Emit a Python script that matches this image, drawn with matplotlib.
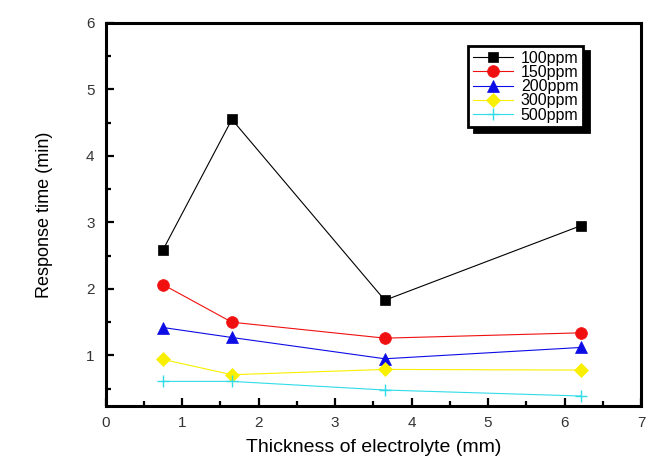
import matplotlib
matplotlib.use("Agg")
import matplotlib.pyplot as plt
from matplotlib.ticker import MultipleLocator

plt.rcParams.update({"font.family": ["Liberation Sans", "DejaVu Sans"]})

thickness = [0.75, 1.65, 3.65, 6.21]
labels = ["100ppm", "150ppm", "200ppm", "300ppm", "500ppm"]
resp_100 = [2.59, 4.55, 1.83, 2.95]
resp_150 = [2.065, 1.50, 1.26, 1.34]
resp_200 = [1.42, 1.27, 0.95, 1.12]
resp_300 = [0.94, 0.71, 0.79, 0.78]
resp_500 = [0.61, 0.61, 0.48, 0.39]

series = [resp_100, resp_150, resp_200, resp_300, resp_500]
colors = ["black", "#f01010", "#0c0ce6", "#f8f000", "#30dce8"]
markers = ["s", "o", "^", "D", "+"]
msizes = [7, 8.5, 8.5, 7.5, 8]

fig = plt.figure(figsize=(6.66, 4.74), dpi=100)
ax = fig.add_axes([0.1587, 0.1435, 0.8038, 0.808])

for vals, lab, c, m, ms in zip(series, labels, colors, markers, msizes):
    ax.plot(thickness, vals, color=c, marker=m, ms=ms, lw=0.8, label=lab,
            markeredgecolor=c, markeredgewidth=1.0 if m == "+" else 0.5)

ax.set_xlim(0, 7)
ax.set_ylim(0.24, 6)
ax.xaxis.set_major_locator(MultipleLocator(1))
ax.xaxis.set_minor_locator(MultipleLocator(0.5))
ax.yaxis.set_major_locator(MultipleLocator(1))
ax.yaxis.set_minor_locator(MultipleLocator(0.5))
ax.tick_params(which="both", direction="in", width=1.6, top=False, right=False,
               labelsize=11, colors="black")
ax.tick_params(which="major", length=5.5)
ax.tick_params(which="minor", length=3.5)
ax.tick_params(axis="x", pad=7)
ax.tick_params(axis="y", pad=8)
for tl in ax.get_xticklabels() + ax.get_yticklabels():
    tl.set_color("#333333")
for s in ax.spines.values():
    s.set_linewidth(2.2)

ax.set_xlabel("Thickness of electrolyte (mm)", fontsize=14, labelpad=7)
ax.set_ylabel("Response time (min)", fontsize=13, labelpad=24)

leg = ax.legend(loc="upper right", bbox_to_anchor=(0.892, 0.940), fontsize=11.5,
                frameon=True, fancybox=False, edgecolor="black",
                shadow={"color": "black", "alpha": 1, "ox": 4, "oy": -3.5},
                handlelength=2.5, borderpad=0.3, labelspacing=-0.05,
                handletextpad=0.5, borderaxespad=0)
leg.get_frame().set_linewidth(2)

fig.savefig("out.png", dpi=100)
